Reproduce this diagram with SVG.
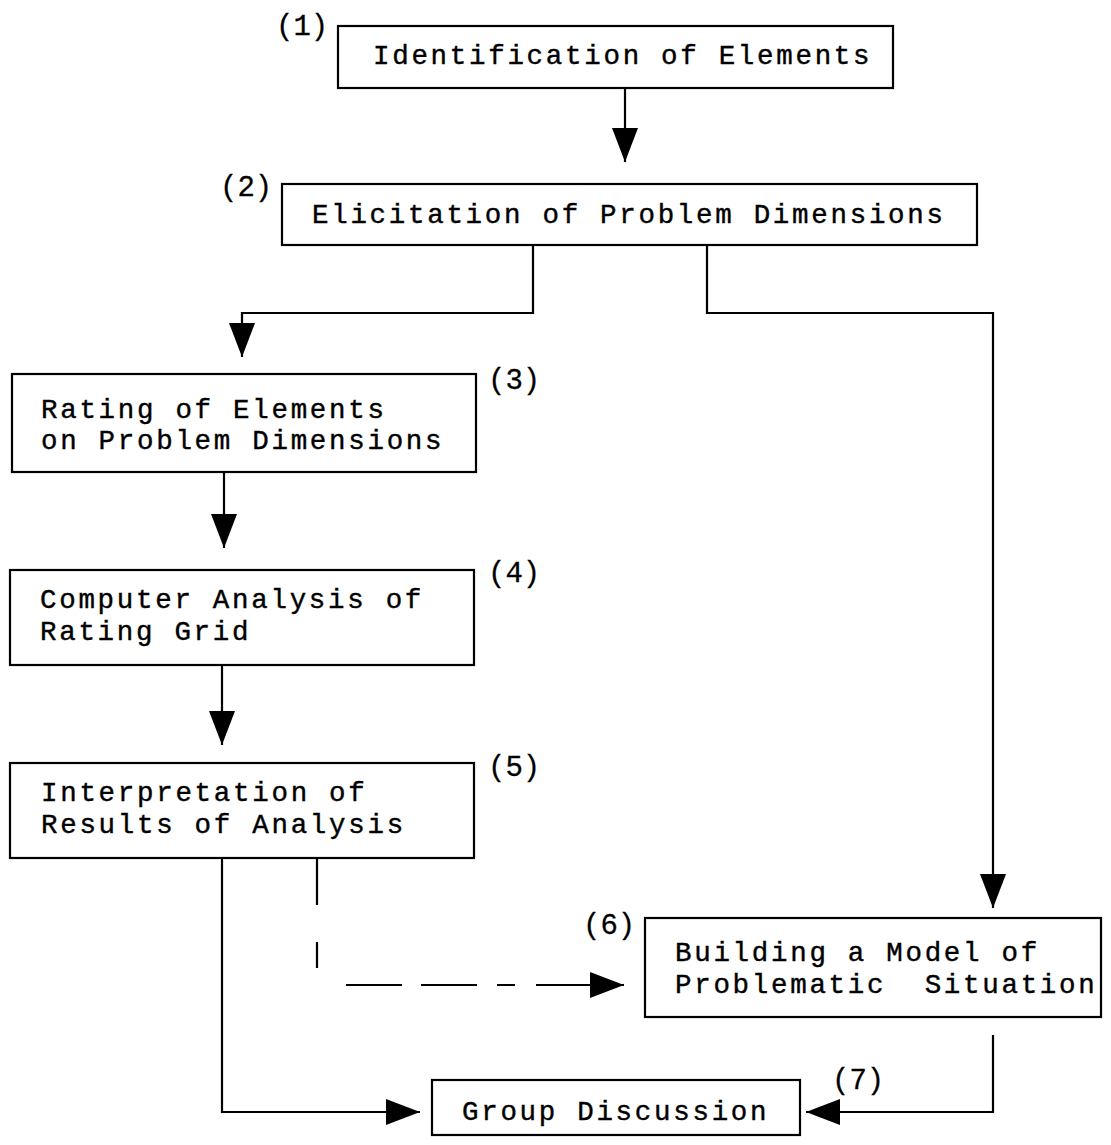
<svg xmlns="http://www.w3.org/2000/svg" width="1111" height="1145" viewBox="0 0 1111 1145">
<style>
.box{fill:#fff;stroke:#000;stroke-width:2.2}
.t{font-family:"Liberation Mono","Courier New",monospace;font-size:27.5px;letter-spacing:2.7px;fill:#000;stroke:#000;stroke-width:0.4}
.n{font-family:"Liberation Mono","Courier New",monospace;font-size:29px;fill:#000;stroke:#000;stroke-width:0.3}
.c{fill:none;stroke:#000;stroke-width:2.2}
</style>
<defs>
<marker id="ah" markerUnits="userSpaceOnUse" markerWidth="36" markerHeight="28" refX="34" refY="13" orient="auto">
<path d="M0,0 L34,13 L0,26 z" fill="#000"/>
</marker>
</defs>
<rect width="1111" height="1145" fill="#fff"/>
<g id="connectors">
<path class="c" d="M625,88 V162" marker-end="url(#ah)"/>
<path class="c" d="M533,245 V313 H242 V357" marker-end="url(#ah)"/>
<path class="c" d="M707,245 V313 H993 V908" marker-end="url(#ah)"/>
<path class="c" d="M224,472 V548" marker-end="url(#ah)"/>
<path class="c" d="M222,665 V745" marker-end="url(#ah)"/>
<path class="c" d="M222,858 V1112 H420" marker-end="url(#ah)"/>
<path class="c" d="M317,858 V905 M317,942 V968 M346,985 H402 M421,985 H477 M497,985 H515 M536,985 H624" marker-end="url(#ah)"/>
<path class="c" d="M993,1035 V1112 H806" marker-end="url(#ah)"/>
</g>
<g id="n1">
<rect class="box" x="338" y="26" width="555" height="62"/>
<text class="t" x="373" y="64">Identification of Elements</text>
<text class="n" x="276" y="35">(1)</text>
</g>
<g id="n2">
<rect class="box" x="282" y="184" width="695" height="61"/>
<text class="t" x="312" y="223">Elicitation of Problem Dimensions</text>
<text class="n" x="220" y="196">(2)</text>
</g>
<g id="n3">
<rect class="box" x="12" y="374" width="464" height="98"/>
<text class="t" x="41" y="418">Rating of Elements</text>
<text class="t" x="41" y="449">on Problem Dimensions</text>
<text class="n" x="488" y="389">(3)</text>
</g>
<g id="n4">
<rect class="box" x="10" y="570" width="464" height="95"/>
<text class="t" x="40" y="608">Computer Analysis of</text>
<text class="t" x="40" y="640">Rating Grid</text>
<text class="n" x="488" y="582">(4)</text>
</g>
<g id="n5">
<rect class="box" x="10" y="763" width="464" height="95"/>
<text class="t" x="41" y="801">Interpretation of</text>
<text class="t" x="41" y="833">Results of Analysis</text>
<text class="n" x="488" y="776">(5)</text>
</g>
<g id="n6">
<rect class="box" x="645" y="918" width="456" height="99"/>
<text class="t" x="675" y="961">Building a Model of</text>
<text class="t" x="675" y="993" xml:space="preserve">Problematic  Situation</text>
<text class="n" x="583" y="934">(6)</text>
</g>
<g id="n7">
<rect class="box" x="432" y="1080" width="368" height="55"/>
<text class="t" x="462" y="1120">Group Discussion</text>
<text class="n" x="832" y="1089">(7)</text>
</g>
</svg>
